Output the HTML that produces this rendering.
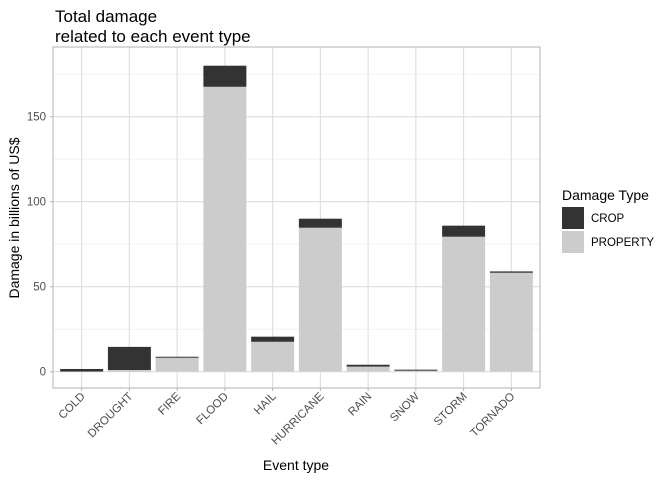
<!DOCTYPE html>
<html><head><meta charset="utf-8"><style>
body{margin:0;background:#fff;font-family:"Liberation Sans",Arial,sans-serif}
</style></head><body>
<svg id="c" width="672" height="480" xmlns="http://www.w3.org/2000/svg">
<text x="55" y="22" font-size="17" fill="#000">Total damage</text>
<text x="55" y="42" font-size="17" fill="#000">related to each event type</text>
<g id="grid"></g><g id="bars"></g><g id="axes"></g>
<text x="296" y="470" font-size="14" text-anchor="middle" fill="#000">Event type</text>
<text transform="translate(19,218) rotate(-90)" font-size="14" text-anchor="middle" fill="#000">Damage in billions of US$</text>
<g>
<text x="562" y="200" font-size="14" fill="#000">Damage Type</text>
<rect x="562" y="207" width="22" height="22" fill="#333333"/>
<text x="591" y="222" font-size="11.5" fill="#000">CROP</text>
<rect x="562" y="231" width="22" height="22" fill="#cccccc"/>
<text x="591" y="246" font-size="11.5" fill="#000">PROPERTY</text>
</g>
</svg>
<script>
const categories=["COLD","DROUGHT","FIRE","FLOOD","HAIL","HURRICANE","RAIN","SNOW","STORM","TORNADO"];
const propertyValues=[0.1,1.0,8.2,167.6,17.6,84.7,3.0,0.6,79.4,58.2];
const cropValues=[1.5,13.6,0.6,12.4,3.0,5.3,1.1,0.6,6.5,0.8];
const yTicks=[0,50,100,150];
const yMinor=[25,75,125,175];
const NS="http://www.w3.org/2000/svg";
const L=53,R=540,T=47,B=388;
const step=(R-L)/(categories.length+0.2);
const x=i=>L+step*(i+0.6);
const y=v=>371.7-v*1.7;
function mk(t,a,p){const e=document.createElementNS(NS,t);for(const k in a)e.setAttribute(k,a[k]);p.appendChild(e);return e;}
const grid=document.getElementById('grid'),bars=document.getElementById('bars'),axes=document.getElementById('axes');
yMinor.forEach(v=>{const l=mk('line',{x1:L,x2:R,y1:y(v),y2:y(v),stroke:'#ebebeb','stroke-width':0.6},grid);

});
yTicks.forEach(v=>{const l=mk('line',{x1:L,x2:R,y1:y(v),y2:y(v),stroke:'#dedede','stroke-width':1.1},grid);


const t=mk('text',{x:L-7,y:y(v)+4,'font-size':11.5,fill:'#4d4d4d','text-anchor':'end'},axes);t.textContent=v;


mk('line',{x1:L-3,x2:L,y1:y(v),y2:y(v),stroke:'#b3b3b3'},axes);});
categories.forEach((c,i)=>{const l=mk('line',{x1:x(i),x2:x(i),y1:T,y2:B,stroke:'#dedede','stroke-width':1.1},grid);


const w=step*0.9,p=propertyValues[i],cr=cropValues[i];
const r1=mk('rect',{x:x(i)-w/2,y:y(p),width:w,height:y(0)-y(p),fill:'#cccccc'},bars);


const r2=mk('rect',{x:x(i)-w/2,y:y(p+cr),width:w,height:y(p)-y(p+cr),fill:'#333333'},bars);


mk('line',{x1:x(i),x2:x(i),y1:B,y2:B+3,stroke:'#b3b3b3'},axes);
const t=mk('text',{'font-size':11.5,fill:'#4d4d4d','text-anchor':'end',transform:`translate(${x(i)+4},${B+9}) rotate(-45)`},axes);t.textContent=c;

});
const fr=mk('rect',{x:L,y:T,width:R-L,height:B-T,fill:'none',stroke:'#b3b3b3','stroke-width':1},axes);


</script>
</body></html>
